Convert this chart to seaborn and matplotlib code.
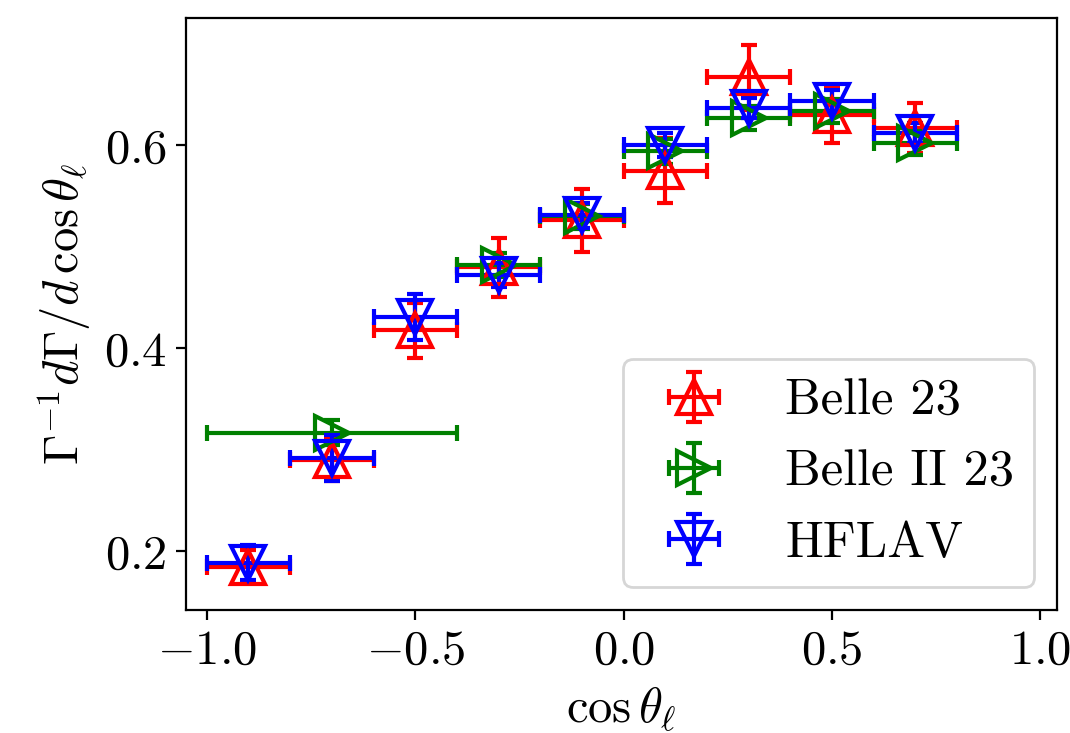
import numpy as np
import matplotlib
matplotlib.use("Agg")
import matplotlib.pyplot as plt
import seaborn as sns

# ---- data ----
belle_x = [-0.9, -0.7, -0.5, -0.3, -0.1, 0.1, 0.3, 0.5, 0.7]
belle_xerr = [0.1, 0.1, 0.1, 0.1, 0.1, 0.1, 0.1, 0.1, 0.1]
belle_y = [0.185, 0.290, 0.418, 0.480, 0.526, 0.575, 0.667, 0.630, 0.617]
belle_yerr = [0.016, 0.021, 0.027, 0.029, 0.031, 0.032, 0.032, 0.028, 0.025]

belle2_x = [-0.7, -0.3, -0.1, 0.1, 0.3, 0.5, 0.7]
belle2_xerr = [0.3, 0.1, 0.1, 0.1, 0.1, 0.1, 0.1]
belle2_y = [0.317, 0.482, 0.530, 0.594, 0.627, 0.634, 0.602]
belle2_yerr = [0.012, 0.012, 0.012, 0.012, 0.012, 0.012, 0.012]

hflav_x = [-0.9, -0.7, -0.5, -0.3, -0.1, 0.1, 0.3, 0.5, 0.7]
hflav_xerr = [0.1, 0.1, 0.1, 0.1, 0.1, 0.1, 0.1, 0.1, 0.1]
hflav_y = [0.189, 0.292, 0.431, 0.472, 0.531, 0.600, 0.637, 0.644, 0.612]
hflav_yerr = [0.017, 0.023, 0.023, 0.012, 0.012, 0.012, 0.010, 0.010, 0.010]

labels = ["Belle 23", "Belle II 23", "HFLAV"]
colors = ["red", "green", "blue"]
markers = ["^", ">", "v"]

# ---- style ----
sns.set_theme(style="ticks")
plt.rcParams.update({
    "font.family": "serif",
    "font.serif": ["cmr10", "DejaVu Serif"],
    "mathtext.fontset": "cm",
    "axes.formatter.use_mathtext": True,
    "axes.edgecolor": "black",
    "text.color": "black",
    "axes.labelcolor": "black",
    "xtick.color": "black",
    "ytick.color": "black",
    "axes.linewidth": 0.8,
    "xtick.major.width": 0.8,
    "ytick.major.width": 0.8,
    "xtick.major.size": 3.5,
    "ytick.major.size": 3.5,
    "legend.edgecolor": "0.8",
    "font.size": 17.5,
})

fig, ax = plt.subplots(figsize=(5.35, 3.665), dpi=200)
fig.subplots_adjust(left=0.1738, right=0.9879, bottom=0.168, top=0.9757)

series = [
    (belle_x, belle_y, belle_xerr, belle_yerr),
    (belle2_x, belle2_y, belle2_xerr, belle2_yerr),
    (hflav_x, hflav_y, hflav_xerr, hflav_yerr),
]
for (x, y, xe, ye), lab, c, m in zip(series, labels, colors, markers):
    ax.errorbar(x, y, xerr=xe, yerr=ye, fmt=m, color=c, ecolor=c,
                markerfacecolor="none", markeredgecolor=c, markersize=12,
                markeredgewidth=1.5, elinewidth=1.5, capsize=3, capthick=1.5,
                label=lab, linestyle="none")

ax.set_xlim(-1.05, 1.04)
ax.set_xticks([-1.0, -0.5, 0.0, 0.5, 1.0])
ax.set_yticks([0.2, 0.4, 0.6])
ax.tick_params(labelsize=17.5)
ax.set_xlabel(r"$\cos\theta_\ell$", fontsize=17.5)
ax.set_ylabel(r"$\Gamma^{-1}d\Gamma/d\,\cos\theta_\ell$", fontsize=17.5)
ax.legend(loc="lower right", fontsize=18.2, frameon=True, fancybox=True,
          borderaxespad=0.45)

fig.savefig("out.png", dpi=200)
